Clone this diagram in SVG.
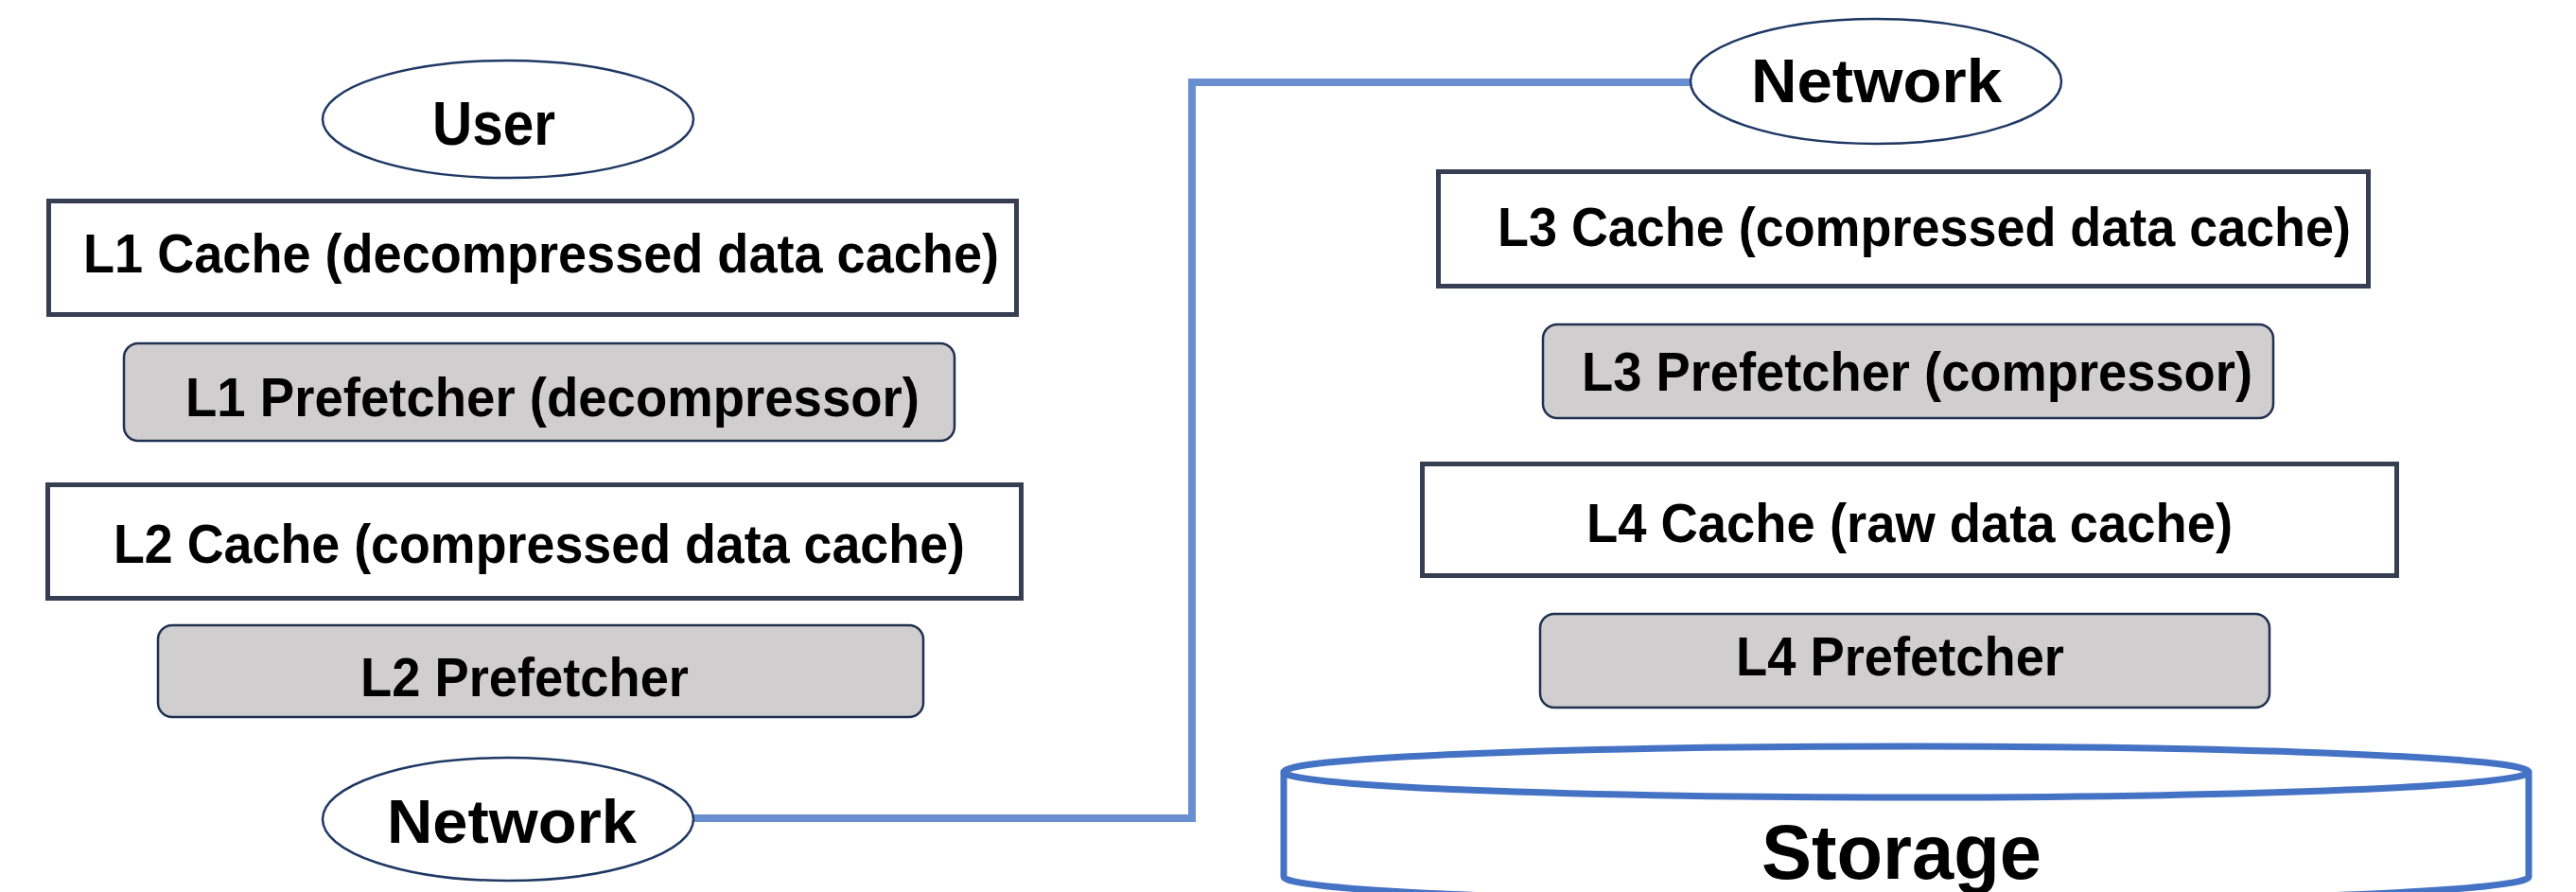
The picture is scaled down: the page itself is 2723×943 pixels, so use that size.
<svg xmlns="http://www.w3.org/2000/svg" width="2723" height="943" viewBox="0 0 2723 943">
<style>
text{font-family:"Liberation Sans",Arial,sans-serif;font-weight:bold;fill:#000;}
.lbl{font-size:57px;}
.big{font-size:65px;}
.cache{fill:#fff;stroke:#363f51;stroke-width:5;}
.pref{fill:#d0cece;stroke:#1f3050;stroke-width:2.5;}
.oval{fill:#fff;stroke:#1f3864;stroke-width:2.5;}
.conn{fill:none;stroke:#6a8fd0;stroke-width:8;}
.cyl{fill:#fff;stroke:#4472c4;stroke-width:7;}
</style>
<rect width="2723" height="943" fill="#fff"/>
<g id="connectors">
<polyline class="conn" points="733,865 1260,865 1260,87 1787,87"/>
</g>
<g id="user">
<ellipse class="oval" cx="537" cy="126" rx="196" ry="62"/>
<text class="big" x="457" y="153" textLength="130" lengthAdjust="spacingAndGlyphs">User</text>
</g>
<g id="l1cache">
<rect class="cache" x="51.5" y="212.5" width="1023" height="120"/>
<text class="lbl" x="88" y="288" textLength="968" lengthAdjust="spacingAndGlyphs">L1 Cache (decompressed data cache)</text>
</g>
<g id="l1pref">
<rect class="pref" x="131" y="363" width="878" height="103" rx="15"/>
<text class="lbl" x="196" y="440" textLength="776" lengthAdjust="spacingAndGlyphs">L1 Prefetcher (decompressor)</text>
</g>
<g id="l2cache">
<rect class="cache" x="50.5" y="512.5" width="1029" height="120"/>
<text class="lbl" x="120" y="595" textLength="900" lengthAdjust="spacingAndGlyphs">L2 Cache (compressed data cache)</text>
</g>
<g id="l2pref">
<rect class="pref" x="167" y="661" width="809" height="97" rx="15"/>
<text class="lbl" x="381" y="736" textLength="347" lengthAdjust="spacingAndGlyphs">L2 Prefetcher</text>
</g>
<g id="network-left">
<ellipse class="oval" cx="537" cy="866" rx="196" ry="65"/>
<text class="big" x="409" y="891" textLength="264" lengthAdjust="spacingAndGlyphs">Network</text>
</g>
<g id="network-top">
<ellipse class="oval" cx="1983" cy="86" rx="196" ry="66"/>
<text class="big" x="1851" y="108" textLength="265" lengthAdjust="spacingAndGlyphs">Network</text>
</g>
<g id="l3cache">
<rect class="cache" x="1520.5" y="181.5" width="983" height="121"/>
<text class="lbl" x="1583" y="260" textLength="902" lengthAdjust="spacingAndGlyphs">L3 Cache (compressed data cache)</text>
</g>
<g id="l3pref">
<rect class="pref" x="1631" y="343" width="772" height="99" rx="15"/>
<text class="lbl" x="1672" y="413" textLength="709" lengthAdjust="spacingAndGlyphs">L3 Prefetcher (compressor)</text>
</g>
<g id="l4cache">
<rect class="cache" x="1503.5" y="490.5" width="1030" height="118"/>
<text class="lbl" x="1677" y="573" textLength="683" lengthAdjust="spacingAndGlyphs">L4 Cache (raw data cache)</text>
</g>
<g id="l4pref">
<rect class="pref" x="1628" y="649" width="771" height="99" rx="15"/>
<text class="lbl" x="1835" y="714" textLength="347" lengthAdjust="spacingAndGlyphs">L4 Prefetcher</text>
</g>
<g id="storage">
<path class="cyl" d="M1357,816 L1357,927 A658,27 0 0 0 2673,927 L2673,816"/>
<ellipse class="cyl" cx="2015" cy="816" rx="658" ry="27"/>
<text x="1862" y="929" font-size="82" textLength="296" lengthAdjust="spacingAndGlyphs">Storage</text>
</g>
</svg>
